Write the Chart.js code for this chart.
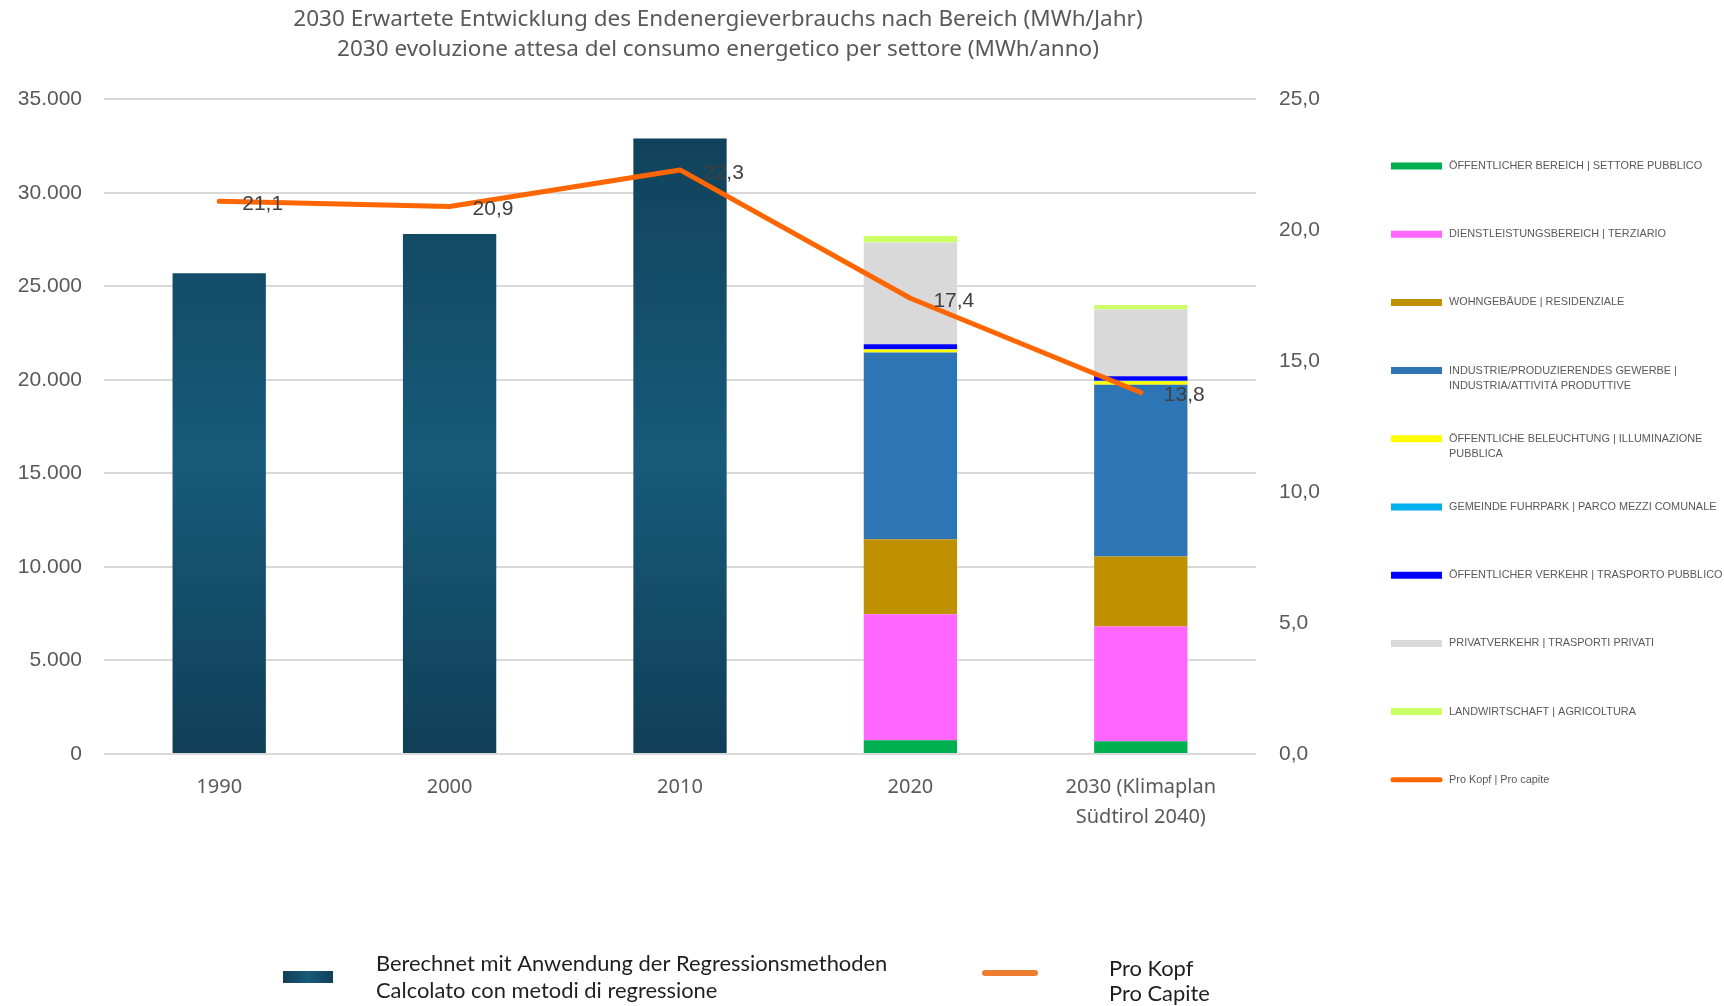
<!DOCTYPE html>
<html>
<head>
<meta charset="utf-8">
<script src="https://cdn.jsdelivr.net/npm/chart.js@4/dist/chart.umd.min.js"></script>
<style>
  html, body { margin: 0; padding: 0; background: #fff; }
  #wrap { width: 1724px; height: 1006px; position: relative; }
</style>
</head>
<body>
<div id="wrap"><canvas id="chart"></canvas></div>
<script>
// ---- data ----
const years = ['1990', '2000', '2010', '2020', ['2030 (Klimaplan', 'Südtirol 2040)']];
const berechnet = [25700, 27800, 32900, null, null];
const oeffentlich = [null, null, null, 735, 680];
const dienstleistung = [null, null, null, 6730, 6140];
const wohngebaeude = [null, null, null, 4010, 3730];
const industrie = [null, null, null, 9980, 9190];
const beleuchtung = [null, null, null, 165, 185];
const fuhrpark = [null, null, null, 20, 20];
const verkehr = [null, null, null, 257, 240];
const privatverkehr = [null, null, null, 5440, 3570];
const landwirtschaft = [null, null, null, 350, 240];
const proKopf = [21.1, 20.9, 22.3, 17.4, 13.8];

const leftTicks = [0, 5000, 10000, 15000, 20000, 25000, 30000, 35000];
const rightTicks = [0, 5, 10, 15, 20, 25];

const titleLines = [
  '2030 Erwartete Entwicklung des Endenergieverbrauchs nach Bereich (MWh/Jahr)',
  '2030 evoluzione attesa del consumo energetico per settore (MWh/anno)'
];
const sectorLabels = [
  ['ÖFFENTLICHER BEREICH | SETTORE PUBBLICO'],
  ['DIENSTLEISTUNGSBEREICH | TERZIARIO'],
  ['WOHNGEBÄUDE | RESIDENZIALE'],
  ['INDUSTRIE/PRODUZIERENDES GEWERBE |', 'INDUSTRIA/ATTIVITÁ PRODUTTIVE'],
  ['ÖFFENTLICHE BELEUCHTUNG | ILLUMINAZIONE', 'PUBBLICA'],
  ['GEMEINDE FUHRPARK | PARCO MEZZI COMUNALE'],
  ['ÖFFENTLICHER VERKEHR | TRASPORTO PUBBLICO'],
  ['PRIVATVERKEHR | TRASPORTI PRIVATI'],
  ['LANDWIRTSCHAFT | AGRICOLTURA']
];
const lineLabelRight = ['Pro Kopf | Pro capite'];
const berechnetLabel = ['Berechnet mit Anwendung der Regressionsmethoden', 'Calcolato con metodi di regressione'];
const lineLabelBottom = ['Pro Kopf', 'Pro Capite'];

const sectorColors = ['#00B050', '#FF66FF', '#BF9000', '#2E75B6', '#FFFF00', '#00B0F0', '#0000FF', '#D9D9D9', '#CCFF66'];
const sectorData = [oeffentlich, dienstleistung, wohngebaeude, industrie, beleuchtung, fuhrpark, verkehr, privatverkehr, landwirtschaft];

// ---- helpers ----
function tealGradient(ctx) {
  const area = ctx.chart.chartArea;
  if (!area) return '#14506c';
  const g = ctx.chart.ctx.createLinearGradient(0, area.top, 0, area.bottom);
  g.addColorStop(0, '#103f57');
  g.addColorStop(0.55, '#175a7a');
  g.addColorStop(1, '#103f57');
  return g;
}

const datasets = [];
datasets.push({
  type: 'line', label: lineLabelRight.join(' '), data: proKopf, yAxisID: 'y1',
  borderColor: '#FF6600', backgroundColor: '#FF6600', borderWidth: 5,
  pointRadius: 0, tension: 0, borderCapStyle: 'round', borderJoinStyle: 'round'
});
datasets.push({
  type: 'bar', label: berechnetLabel.join(' '), data: berechnet, yAxisID: 'y',
  backgroundColor: tealGradient, stack: 's'
});
sectorData.forEach((d, i) => {
  datasets.push({
    type: 'bar', label: sectorLabels[i].join(' '), data: d, yAxisID: 'y',
    backgroundColor: sectorColors[i], stack: 's'
  });
});

// ---- plugins: value labels + legends ----
const valueLabels = {
  id: 'valueLabels',
  afterDatasetsDraw(chart) {
    const meta = chart.getDatasetMeta(0);
    const c = chart.ctx;
    c.save();
    c.font = '21px "Liberation Sans", Arial, sans-serif';
    c.fillStyle = '#404040';
    c.textAlign = 'left';
    c.textBaseline = 'middle';
    meta.data.forEach((pt, i) => {
      c.fillText(proKopf[i].toFixed(1).replace('.', ','), pt.x + 23, pt.y + 3);
    });
    c.restore();
  }
};

const customLegends = {
  id: 'customLegends',
  afterDraw(chart) {
    const c = chart.ctx;
    const ds = chart.data.datasets;
    c.save();
    // right legend
    const lx = chart.width - 333;
    let ly = 166;
    c.font = '10.9px "Liberation Sans", Arial, sans-serif';
    c.fillStyle = '#595959';
    c.textBaseline = 'middle';
    c.textAlign = 'left';
    const items = sectorLabels.map((l, i) => ({ lines: l, color: ds[i + 2].backgroundColor, line: false }));
    items.push({ lines: lineLabelRight, color: ds[0].borderColor, line: true });
    items.forEach(it => {
      c.strokeStyle = it.color;
      c.lineWidth = it.line ? 5 : 7;
      c.lineCap = it.line ? 'round' : 'butt';
      c.beginPath();
      c.moveTo(lx + (it.line ? 2 : 0), ly);
      c.lineTo(lx + (it.line ? 49 : 51), ly);
      c.stroke();
      it.lines.forEach((t, k) => c.fillText(t, lx + 58, ly + k * 15.5));
      ly += 68.2;
    });

    // bottom legend
    const g = c.createLinearGradient(283, 0, 333, 0);
    g.addColorStop(0, '#113f57');
    g.addColorStop(0.5, '#185a79');
    g.addColorStop(1, '#113f57');
    c.fillStyle = g;
    c.fillRect(283, 971, 50, 12);
    c.strokeStyle = '#ED7D31';
    c.lineWidth = 6;
    c.lineCap = 'round';
    c.beginPath();
    c.moveTo(985, 973);
    c.lineTo(1035, 973);
    c.stroke();
    c.font = '21.9px Lato, "Noto Sans", sans-serif';
    c.fillStyle = '#1f1f1f';
    berechnetLabel.forEach((t, k) => c.fillText(t, 376, 964 + k * 27));
    lineLabelBottom.forEach((t, k) => c.fillText(t, 1109, 969 + k * 25));
    c.restore();
  }
};

// ---- chart ----
new Chart(document.getElementById('chart'), {
  data: { labels: years, datasets },
  plugins: [valueLabels, customLegends],
  options: {
    responsive: true,
    maintainAspectRatio: false,
    animation: false,
    datasets: { bar: { barPercentage: 0.405, categoryPercentage: 1 } },
    layout: { padding: { left: 0, right: 288, top: 0, bottom: 170 } },
    plugins: {
      legend: { display: false },
      tooltip: { enabled: false },
      title: {
        display: true,
        text: titleLines,
        color: '#595959',
        font: { family: '"Noto Sans", sans-serif', size: 22.5, weight: 'normal', lineHeight: 1.36 },
        padding: { top: 4, bottom: 34 }
      }
    },
    scales: {
      x: {
        stacked: true,
        grid: { display: false },
        border: { display: false },
        ticks: {
          color: '#595959', padding: 10,
          font: { family: '"Noto Sans", sans-serif', size: 20, lineHeight: 1.5 },
          maxRotation: 0, autoSkip: false
        },
        afterFit(s) { s.height = 82; }
      },
      y: {
        stacked: true, min: 0, max: 35000,
        grid: { color: '#D9D9D9', lineWidth: 2, drawTicks: false },
        border: { display: false },
        afterBuildTicks(s) { s.ticks = leftTicks.map(v => ({ value: v })); },
        ticks: {
          color: '#595959', padding: 22,
          font: { family: '"Liberation Sans", Arial, sans-serif', size: 21 },
          callback: v => v.toLocaleString('de-DE')
        },
        afterFit(s) { s.width = 104; }
      },
      y1: {
        position: 'right', min: 0, max: 25,
        grid: { drawOnChartArea: false, drawTicks: false },
        border: { display: false },
        afterBuildTicks(s) { s.ticks = rightTicks.map(v => ({ value: v })); },
        ticks: {
          color: '#595959', padding: 23,
          font: { family: '"Liberation Sans", Arial, sans-serif', size: 21 },
          callback: v => v.toFixed(1).replace('.', ',')
        },
        afterFit(s) { s.width = 180; }
      }
    }
  }
});
</script>
</body>
</html>
